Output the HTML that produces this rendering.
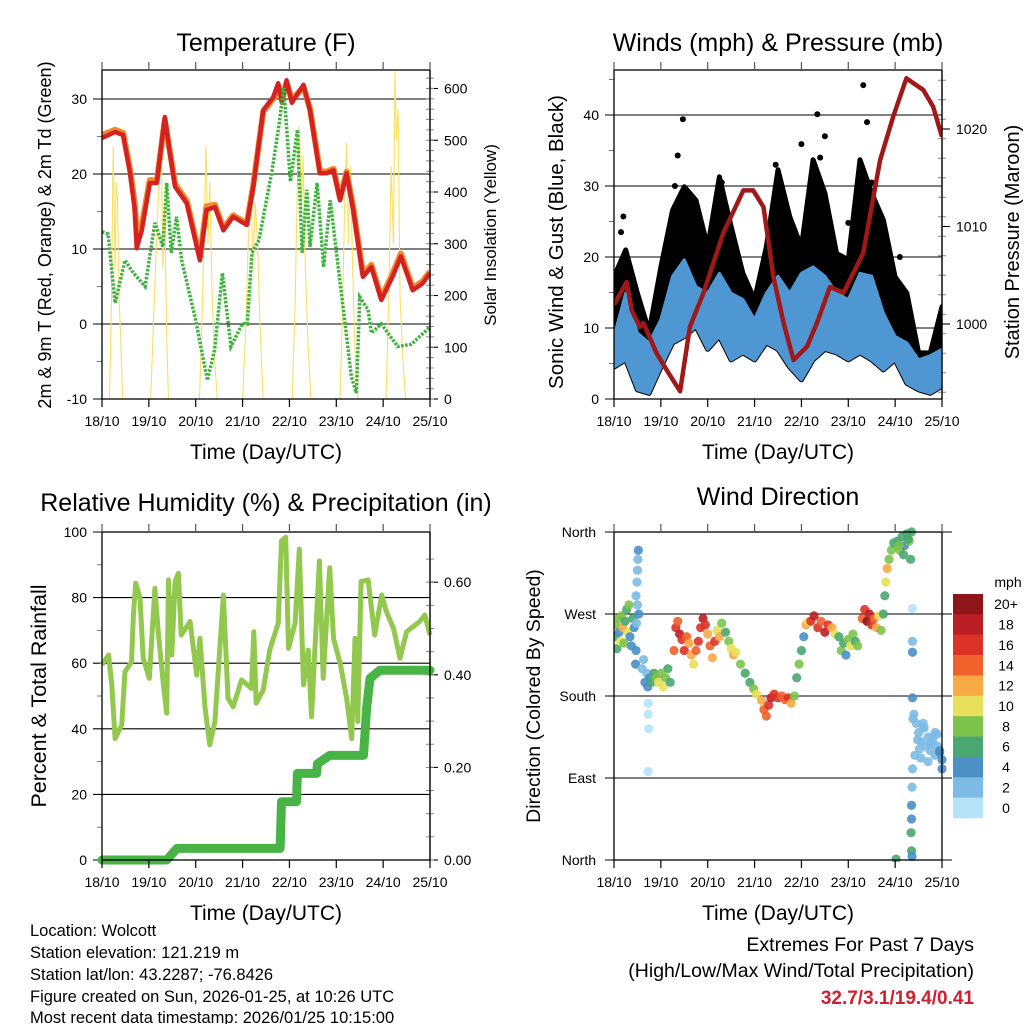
<!DOCTYPE html>
<html><head><meta charset="utf-8"><style>
html,body{margin:0;padding:0;background:#fff;}
svg{display:block;font-family:"Liberation Sans",sans-serif;}
</style></head><body>
<svg id="fig" width="1024" height="1024" viewBox="0 0 1024 1024" xmlns="http://www.w3.org/2000/svg">
<rect width="1024" height="1024" fill="#fff"/>
<g id="g1"></g>
<g id="g2"></g>
<g id="g3"></g>
<g id="g4"></g>
<g font-size="16.5" fill="#000">
<text x="30" y="936">Location: Wolcott</text>
<text x="30" y="958">Station elevation: 121.219 m</text>
<text x="30" y="980">Station lat/lon: 43.2287; -76.8426</text>
<text x="30" y="1002">Figure created on Sun, 2026-01-25, at 10:26 UTC</text>
<text x="30" y="1023">Most recent data timestamp: 2026/01/25 10:15:00</text>
<text x="974" y="951" text-anchor="end" font-size="19.5">Extremes For Past 7 Days</text>
<text x="974" y="977" text-anchor="end" font-size="19.5">(High/Low/Max Wind/Total Precipitation)</text>
<text x="974" y="1004" text-anchor="end" font-size="19" font-weight="bold" fill="#d02030">32.7/3.1/19.4/0.41</text>
</g>
</svg>
<script>
// ---------- data ----------
const dayLabels = ["18/10","19/10","20/10","21/10","22/10","23/10","24/10","25/10"];
const t2mT = [0,0.28,0.45,0.6,0.7,0.74,0.85,1.02,1.17,1.34,1.45,1.56,1.81,2.09,2.23,2.41,2.59,2.8,3.09,3.23,3.44,3.66,3.76,3.84,3.94,4.05,4.3,4.44,4.65,4.79,4.94,5.08,5.22,5.36,5.57,5.75,5.96,6.2,6.38,6.63,6.84,7.0];
const t2mV = [24.8,25.6,25.2,20.1,15.2,10.1,12.5,18.8,18.8,27.6,22.8,18.3,16.1,8.5,15.2,15.6,12.5,14.3,13.2,18.3,28.5,30.3,32.1,29.5,32.5,29.5,31.9,28.5,20.1,20.1,20.5,16.5,20.1,15.2,6.3,7.6,3.2,6.3,9.0,4.5,5.4,6.8];
const t9mV = [25.2,25.9,25.5,20.6,16.0,12.0,13.2,19.2,19.1,27.2,23.0,18.7,16.4,8.9,15.7,15.9,12.8,14.5,13.4,18.6,28.3,30.1,31.8,29.9,32.2,29.9,31.6,28.7,20.4,20.3,20.7,16.8,20.3,15.6,6.6,7.9,3.5,6.7,9.4,4.8,5.7,7.0];
const tdT = [0,0.13,0.28,0.49,0.67,0.92,1.13,1.3,1.38,1.48,1.59,1.7,2.0,2.25,2.4,2.57,2.75,3.0,3.1,3.2,3.35,3.63,3.77,3.88,4.02,4.17,4.27,4.37,4.44,4.59,4.73,4.87,5.04,5.18,5.32,5.43,5.5,5.68,5.75,5.96,6.31,6.6,7.0];
const tdV = [12.3,12.0,2.8,8.5,6.8,5.0,13.5,10.3,18.8,9.5,14.3,8.5,0.5,-7.5,-3.5,6.8,-3.0,0.1,0,9.5,11.2,20.5,26.3,31.5,19.0,25.9,9.5,17.9,10.3,18.8,7.6,16.5,7.6,0.5,-7.0,-9.2,3.6,1.9,-1.2,0,-3.0,-2.7,-0.4];
const solarT = [0,0.16,0.2,0.24,0.28,0.3,0.33,0.36,0.4,0.44,
 1.04,1.1,1.16,1.22,1.27,1.3,1.34,1.38,1.42,
 2.08,2.13,2.18,2.22,2.26,2.3,2.35,2.4,2.46,
 3.0,3.06,3.12,3.18,3.22,3.27,3.32,3.37,3.44,
 4.06,4.12,4.17,4.21,4.25,4.29,4.34,4.4,4.46,
 5.08,5.13,5.18,5.22,5.26,5.3,5.35,5.4,5.46,
 6.06,6.12,6.17,6.22,6.25,6.28,6.32,6.36,6.42,6.48,7.0];
const solarV = [0,0,180,488,250,420,385,200,120,0,
 0,150,300,420,462,250,380,120,0,
 0,140,320,488,300,420,200,80,0,
 0,120,300,410,250,380,300,150,0,
 0,180,420,527,350,470,250,100,0,
 0,160,380,495,300,450,250,90,0,
 0,200,450,300,633,500,560,200,80,0,0];
const windT = [0,0.25,0.5,0.75,1,1.25,1.5,1.75,2,2.25,2.5,2.75,3,3.25,3.5,3.75,4,4.25,4.5,4.75,5,5.25,5.5,5.75,6,6.25,6.5,6.75,7];
const windHi = [8.8,14.9,9.3,7.9,11.2,17.3,19.6,15.8,14.9,17.7,14.9,14,11.2,14.9,17.3,14.9,17.7,18.6,17.3,14.9,14,17.7,17.3,12.1,8.8,7.9,5.5,6.1,7];
const windLo = [4.5,5.5,1.3,0.8,4.5,7.9,8.8,10.2,7,8.8,5.5,6.5,5.5,7.9,7,4.5,2.7,5.5,7,6.5,5.5,6.5,5.5,4.1,5.5,2.2,1.3,0.8,1.8];
const gustHi = [17.2,21,14.9,9.5,18.6,26.6,29.9,28,21.4,31.3,24.3,17.7,14,21.4,32.3,25.7,21.4,33.7,29,20.5,19.6,33.7,29,25.2,17.2,14.9,6.5,6.5,13];
const gustOutT = [1.47,1.36,4.34,5.32,5.4,4.0,4.5,0.2,5.0,6.1,7.0,0.15,1.3,2.3,3.45,3.5,4.4,5.5];
const gustOutV = [39.4,34.3,40.1,44.2,39,35.9,37,25.7,24.8,20,12.7,23.5,30,30.5,33,31,34,30.5];
const presT = [0.0,0.06,0.27,0.38,0.55,0.63,0.91,1.16,1.41,1.62,1.91,2.33,2.76,2.97,3.19,3.4,3.62,3.83,4.12,4.33,4.61,4.9,5.32,5.68,5.96,6.24,6.6,6.81,7.0];
const presV = [1002.0,1002.5,1004.3,1001.4,999.7,1000.1,997.0,995.0,993.1,999.7,1003.2,1009.3,1013.7,1013.7,1012.0,1004.9,1000.1,996.3,997.7,1000.1,1003.8,1003.2,1007.3,1016.8,1021.3,1025.2,1024.0,1022.3,1019.2];
const rhT = [0,0.14,0.21,0.28,0.42,0.49,0.63,0.67,0.72,0.81,0.88,1.01,1.13,1.2,1.31,1.38,1.42,1.49,1.56,1.63,1.69,1.88,2.02,2.09,2.2,2.3,2.41,2.59,2.69,2.8,2.98,3.19,3.24,3.29,3.44,3.58,3.76,3.83,3.92,3.98,4.12,4.21,4.3,4.4,4.47,4.64,4.72,4.86,4.94,5.09,5.22,5.33,5.4,5.46,5.53,5.68,5.82,5.97,6.07,6.22,6.36,6.5,6.78,6.89,7.0];
const rhV = [59.5,62.5,53.4,37,41.2,57.4,60.4,74.7,84.4,79.8,61.5,55.4,82.8,69.6,53.4,44.8,85.4,62.5,84.9,87.4,68.6,72.7,56.4,67.6,46.2,35.1,42.2,80.8,49.3,46.7,54.9,52.3,69.6,47.8,51.8,64.0,72.2,97.3,98.4,64.5,72.2,94.8,53.4,64,43.7,91.2,55.4,89.1,67.6,59.5,49.3,37,67.6,42.2,84.9,85.4,68.6,80.8,75.7,70.6,61.5,69.6,72.7,74.7,68.6];
const precT = [0,1.38,1.6,3.8,3.83,4.15,4.17,4.58,4.6,4.86,5.58,5.65,5.72,5.93,7.0];
const precV = [0,0,0.025,0.025,0.126,0.126,0.187,0.187,0.208,0.226,0.226,0.33,0.392,0.41,0.41];
const dirT = [0.02,0.04,0.06,0.09,0.11,0.14,0.16,0.19,0.21,0.24,0.27,0.29,0.32,0.34,0.37,0.4,0.43,0.47,0.49,0.5,0.51,0.52,0.5,0.53,0.48,0.46,0.47,
0.6,0.63,0.66,0.7,0.72,0.76,0.8,0.85,0.9,0.95,1.0,1.05,1.1,1.15,1.2,0.73,0.73,0.74,0.73,
1.28,1.32,1.36,1.4,1.45,1.5,1.55,1.6,1.65,1.7,1.75,1.8,1.85,1.9,1.95,2.0,2.05,2.1,2.15,2.2,2.25,2.3,
2.38,2.45,2.5,2.55,2.6,2.7,2.8,2.9,2.98,3.04,
3.15,3.2,3.25,3.3,3.35,3.42,3.5,3.58,3.65,3.72,3.78,3.85,
3.9,3.95,4.0,4.05,4.1,4.15,
4.2,4.27,4.35,4.42,4.5,4.57,4.65,4.72,
4.8,4.85,4.9,4.95,5.0,5.05,5.1,5.15,5.2,
5.3,5.35,5.4,5.45,5.5,5.55,5.6,5.65,5.7,
5.75,5.78,5.8,5.83,5.87,5.92,5.97,
6.05,6.1,6.15,6.2,6.25,6.3,6.35,6.33,6.08,6.18,6.28,
6.37,6.37,6.37,6.37,6.38,6.37,6.36,6.35,6.35,6.34,6.35,6.36,6.02,
6.4,6.45,6.5,6.55,6.6,6.65,6.7,6.75,6.8,6.85,6.9,6.95,7.0,6.42,6.55,6.7,6.85,6.48,6.6,6.75,6.9,6.52,6.62,6.8,6.95,7.0];
const dirV = [245,258,232,265,250,240,268,255,238,262,275,250,280,245,235,265,255,290,305,318,330,340,280,270,260,215,230,
210,220,195,205,190,200,195,205,200,195,205,190,200,210,195,172,160,144,97,
230,255,262,248,242,230,245,238,225,215,230,240,255,265,258,248,235,222,240,252,245,260,
250,240,232,225,228,215,205,195,188,182,
175,165,158,170,178,182,178,180,176,178,172,180,
200,215,230,245,258,262,
262,268,255,262,250,258,255,248,
245,230,238,225,242,235,248,240,235,
265,275,262,270,258,265,255,268,252,
270,290,305,320,330,340,348,
350,340,355,345,358,350,360,330,345,335,352,
276,240,228,178,155,100,80,60,45,30,10,4,1,
160,150,140,130,145,125,135,120,130,115,125,118,110,115,112,108,140,132,150,128,138,122,145,135,120,100];
const dirS = [6,8,7,9,5,10,8,12,9,7,6,10,8,5,4,6,4,2,3,2,2,4,3,4,3,4,4,
2,3,4,2,4,4,6,6,8,10,8,10,8,6,7,0,0,0,0,
14,16,15,18,16,17,14,13,12,10,14,16,17,18,16,12,14,13,16,10,12,8,
6,8,10,12,10,8,6,6,8,10,
12,14,15,16,18,16,17,15,14,16,12,8,
6,8,6,4,12,10,
16,18,16,14,18,16,12,10,
6,8,6,4,8,10,8,6,8,
14,16,20,18,16,14,12,10,8,
6,6,10,12,8,8,6,
6,8,6,4,6,8,6,6,8,6,6,
0,2,4,4,2,2,2,4,4,6,6,4,6,
2,2,2,2,2,2,2,2,2,2,2,4,4,2,2,2,2,2,2,2,2,2,2,2,4,4];
const speedLabels = ["20+","18","16","14","12","10","8","6","4","2","0"];
const speedColors = ["#8e1519","#bb1e25","#dc3327","#f0612b","#f8aa45","#e8e05a","#7cc34b","#4aa76f","#4a8fc6","#7dbae4","#b5e3f8"];

// ---------- helpers ----------
const NS="http://www.w3.org/2000/svg";
function mk(parent,tag,attrs){const e=document.createElementNS(NS,tag);for(const k in attrs)e.setAttribute(k,attrs[k]);parent.appendChild(e);return e;}
function txt(parent,x,y,s,size,anchor,rot){const e=mk(parent,'text',{x:x,y:y,'font-size':size,'text-anchor':anchor||'middle'});if(rot)e.setAttribute('transform','rotate(-90 '+x+' '+y+')');e.textContent=s;return e;}
function pathOf(ts,vs,xf,yf){let d='';for(let i=0;i<ts.length;i++)d+=(i?'L':'M')+xf(ts[i]).toFixed(1)+' '+yf(vs[i]).toFixed(1);return d;}

function frame(g,P,title,ttlY){
  const t=txt(g,(P.x0+P.x1)/2,ttlY,title,25);
  
  
  const b=mk(g,'rect',{x:P.x0,y:P.y0,width:P.x1-P.x0,height:P.y1-P.y0,fill:'none',stroke:'#000','stroke-width':1.3});
  
  
  const xg=mk(g,'g',{});
  
  
  for(let i=0;i<dayLabels.length;i++){
    const x=P.x0+i*(P.x1-P.x0)/7;
    mk(xg,'line',{x1:x,x2:x,y1:P.y1,y2:P.y1+8,stroke:'#000','stroke-width':1.2});
    mk(xg,'line',{x1:x,x2:x,y1:P.y0,y2:P.y0-8,stroke:'#555','stroke-width':1.2});
    const l=txt(xg,x,P.y1+27,dayLabels[i],14);
    
    
  }
  const xt=txt(g,(P.x0+P.x1)/2,P.y1+60,'Time (Day/UTC)',21);
  
  
}
function leftAxis(g,P,vals,labels,yf,minor,grid){
  for(let i=0;i<vals.length;i++){
    const y=yf(vals[i]);
    mk(g,'line',{x1:P.x0-9,x2:grid?P.x1:P.x0,y1:y,y2:y,stroke:'#000','stroke-width':1.1});
    const l=txt(g,P.x0-15,y+5,labels[i],14,'end');
    
    
  }
  (minor||[]).forEach(v=>{const y=yf(v);mk(g,'line',{x1:P.x0-5,x2:P.x0,y1:y,y2:y,stroke:'#777','stroke-width':1});});
}
function rightAxis(g,P,vals,labels,yf,minor){
  mk(g,'line',{x1:P.x1,x2:P.x1,y1:P.y0,y2:P.y1,stroke:'#555','stroke-width':1.3});
  for(let i=0;i<vals.length;i++){
    const y=yf(vals[i]);
    mk(g,'line',{x1:P.x1,x2:P.x1+8,y1:y,y2:y,stroke:'#000','stroke-width':1.1});
    const l=txt(g,P.x1+14,y+5,labels[i],14,'start');
    
    
  }
  (minor||[]).forEach(v=>{const y=yf(v);if(y>=P.y0&&y<=P.y1)mk(g,'line',{x1:P.x1-4,x2:P.x1+4,y1:y,y2:y,stroke:'#888','stroke-width':1});});
}

// ---------- Panel 1: temperature ----------
(function(){
  const g=document.getElementById('g1');
  const P={x0:102,x1:430,y0:70,y1:399};
  const X=d=>P.x0+d*(P.x1-P.x0)/7, Y=v=>399-(v+10)*7.5, S=v=>399-v*0.5175;
  const clip=mk(g,'clipPath',{id:'c1'});mk(clip,'rect',{x:P.x0,y:P.y0,width:P.x1-P.x0,height:P.y1-P.y0});
  leftAxis(g,P,[-10,0,10,20,30],["-10","0","10","20","30"],Y,[-5,5,15,25],true);
  const minors=[];for(let v=0;v<=640;v+=20)minors.push(v);
  rightAxis(g,P,[0,100,200,300,400,500,600],["0","100","200","300","400","500","600"],S,minors);
  const d=mk(g,'g',{'clip-path':'url(#c1)'});
  const s=mk(d,'path',{d:pathOf(solarT,solarV,X,S),fill:'none',stroke:'#f8e060','stroke-width':1.1});
  
  
  const o=mk(d,'path',{d:pathOf(t2mT,t9mV,X,Y),fill:'none',stroke:'#f08a2a','stroke-width':6,'stroke-linejoin':'round'});
  
  
  const r=mk(d,'path',{d:pathOf(t2mT,t2mV,X,Y),fill:'none',stroke:'#d42222','stroke-width':4.5,'stroke-linejoin':'round'});
  
  
  const gr=mk(d,'path',{d:pathOf(tdT,tdV,X,Y),fill:'none',stroke:'#3cb33c','stroke-width':3.5,'stroke-dasharray':'2.5 1.5'});
  
  
  frame(g,P,'Temperature (F)',51);
  const yl=txt(g,51,235,'2m & 9m T (Red, Orange) & 2m Td (Green)',18,'middle',true);
  
  
  const yr=txt(g,496,235,'Solar Insolation (Yellow)',17,'middle',true);
  
  
})();

// ---------- Panel 2: winds & pressure ----------
(function(){
  const g=document.getElementById('g2');
  const P={x0:614,x1:942,y0:70,y1:399};
  const X=d=>P.x0+d*(P.x1-P.x0)/7, Y=m=>399-m*7.1, PR=p=>324-(p-1000)*9.75;
  const clip=mk(g,'clipPath',{id:'c2'});mk(clip,'rect',{x:P.x0,y:P.y0,width:P.x1-P.x0,height:P.y1-P.y0});
  leftAxis(g,P,[0,10,20,30,40],["0","10","20","30","40"],Y,[5,15,25,35,45],true);
  const minors=[];for(let v=993;v<=1026;v+=2)minors.push(v);
  rightAxis(g,P,[1000,1010,1020],["1000","1010","1020"],PR,minors);
  const d=mk(g,'g',{'clip-path':'url(#c2)'});
  let gp=pathOf(windT,gustHi,X,Y);
  for(let i=windT.length-1;i>=0;i--)gp+='L'+X(windT[i]).toFixed(1)+' '+Y(windLo[i]).toFixed(1);
  const gu=mk(d,'path',{d:gp+'Z',fill:'#000',stroke:'#000','stroke-width':5,'stroke-linejoin':'round'});
  
  
  for(let i=0;i<gustOutT.length;i++){
    const c=mk(d,'circle',{cx:X(gustOutT[i]),cy:Y(gustOutV[i]),r:3,fill:'#000'});
    
    
  }
  let bp=pathOf(windT,windHi,X,Y);
  for(let i=windT.length-1;i>=0;i--)bp+='L'+X(windT[i]).toFixed(1)+' '+Y(windLo[i]).toFixed(1);
  const bl=mk(d,'path',{d:bp+'Z',fill:'#4f97d3',stroke:'#4f97d3','stroke-width':3,'stroke-linejoin':'round'});
  
  
  const pr=mk(d,'path',{d:pathOf(presT,presV,X,PR),fill:'none',stroke:'#a01818','stroke-width':4.5,'stroke-linejoin':'round'});
  
  
  frame(g,P,'Winds (mph) & Pressure (mb)',51);
  const yl=txt(g,563,242,'Sonic Wind & Gust (Blue, Black)',20.5,'middle',true);
  
  
  const yr=txt(g,1019,242,'Station Pressure (Maroon)',20,'middle',true);
  
  
})();

// ---------- Panel 3: RH & precip ----------
(function(){
  const g=document.getElementById('g3');
  const P={x0:102,x1:430,y0:532,y1:860};
  const X=d=>P.x0+d*(P.x1-P.x0)/7, Y=r=>860-r*3.28, PP=p=>860-p*463;
  const clip=mk(g,'clipPath',{id:'c3'});mk(clip,'rect',{x:P.x0-5,y:P.y0,width:P.x1-P.x0+10,height:P.y1-P.y0+5});
  leftAxis(g,P,[0,20,40,60,80,100],["0","20","40","60","80","100"],Y,[10,30,50,70,90],true);
  const minors=[];for(let v=0;v<=0.7;v+=0.05)minors.push(+v.toFixed(2));
  rightAxis(g,P,[0,0.2,0.4,0.6],["0.00","0.20","0.40","0.60"],PP,minors);
  const d=mk(g,'g',{'clip-path':'url(#c3)'});
  const rh=mk(d,'path',{d:pathOf(rhT,rhV,X,Y),fill:'none',stroke:'#92c84e','stroke-width':5,'stroke-linejoin':'round'});
  
  
  const pc=mk(d,'path',{d:pathOf(precT,precV,X,PP),fill:'none',stroke:'#48b446','stroke-width':9,'stroke-linejoin':'round','stroke-linecap':'round'});
  
  
  frame(g,P,'Relative Humidity (%) & Precipitation (in)',511);
  const yl=txt(g,46,696,'Percent & Total Rainfall',21.5,'middle',true);
  
  
})();

// ---------- Panel 4: wind direction ----------
(function(){
  const g=document.getElementById('g4');
  const P={x0:614,x1:942,y0:532,y1:860};
  const X=d=>P.x0+d*(P.x1-P.x0)/7, Y=a=>860-a*(P.y1-P.y0)/360;
  const clip=mk(g,'clipPath',{id:'c4'});mk(clip,'rect',{x:P.x0,y:P.y0-6,width:P.x1-P.x0+6,height:P.y1-P.y0+8});
  const dirVals=[0,90,180,270,360], dirLabs=["North","East","South","West","North"];
  for(let i=0;i<dirVals.length;i++){
    const y=Y(dirVals[i]);
    mk(g,'line',{x1:P.x0-9,x2:P.x1+10,y1:y,y2:y,stroke:'#000','stroke-width':1.1});
    const l=txt(g,P.x0-18,y+5,dirLabs[i],14,'end');
    
    
  }
  const idx=s=>Math.max(0,Math.min(10,10-Math.floor(s/2)));
  const d=mk(g,'g',{'clip-path':'url(#c4)'});
  for(let i=0;i<dirT.length;i++){
    const c=mk(d,'circle',{cx:X(dirT[i]),cy:Y(dirV[i]),r:4.6,fill:speedColors[idx(dirS[i])],'fill-opacity':0.9});
    
    
  }
  frame(g,P,'Wind Direction',505);
  const yl=txt(g,540,696,'Direction (Colored By Speed)',19.5,'middle',true);
  
  
  const cb=mk(g,'g',{});
  
  
  const bh=(818-594)/speedLabels.length;
  for(let i=0;i<speedLabels.length;i++){
    const r=mk(cb,'rect',{x:953,y:594+i*bh,width:30,height:bh+0.3,fill:speedColors[i]});
    
    
    const l=txt(cb,1006,594+i*bh+bh/2+5,speedLabels[i],14);
    
    
  }
  const u=txt(cb,1008,587,'mph',14);
  
  
})();
</script>
</body></html>
